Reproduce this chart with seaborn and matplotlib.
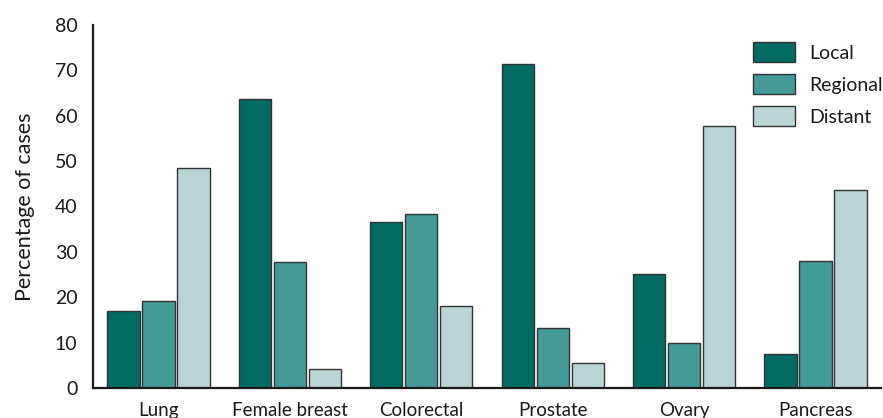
import numpy as np
import matplotlib
matplotlib.use('Agg')
import matplotlib.pyplot as plt
import pandas as pd
import seaborn as sns

sites = ['Lung', 'Female breast', 'Colorectal', 'Prostate', 'Ovary', 'Pancreas']
stages = ['Local', 'Regional', 'Distant']
local = [17.0, 63.7, 36.6, 71.4, 25.1, 7.5]
regional = [19.2, 27.8, 38.3, 13.2, 9.9, 28.0]
distant = [48.5, 4.2, 18.1, 5.5, 57.7, 43.6]
colors = ['#006b63', '#439a97', '#b9d6d5']

df = pd.DataFrame({
    'site': sites * 3,
    'stage': [s for s in stages for _ in sites],
    'pct': local + regional + distant,
})

sns.set_theme(style='white')
plt.rcParams['font.family'] = ['Lato', 'DejaVu Sans']
plt.rcParams['text.color'] = '#1a1a1a'

fig = plt.figure(figsize=(8.83, 4.18), dpi=100)
ax = fig.add_axes([0.105, 0.0718, 0.893, 0.8685])

sns.barplot(data=df, x='site', y='pct', hue='stage', hue_order=stages,
            order=sites, palette=colors, width=0.8, gap=0.08,
            edgecolor='#333333', linewidth=1.0, saturation=1, ax=ax)

ax.set_xlim(-0.5, 5.5)
ax.set_ylim(0, 80)
ax.set_yticks(range(0, 81, 10))
ax.set_xlabel('')
ax.set_ylabel('Percentage of cases', fontsize=15.5, labelpad=14, color='#1a1a1a')

for s in ['top', 'right']:
    ax.spines[s].set_visible(False)
for s in ['left', 'bottom']:
    ax.spines[s].set_color('#1a1a1a')
    ax.spines[s].set_linewidth(1.6)

ax.tick_params(axis='y', direction='in', length=14, width=1.6, color='#1a1a1a',
               labelsize=14, pad=11, labelcolor='#1a1a1a')
ax.yaxis.get_major_ticks()[0].tick1line.set_visible(False)
ax.yaxis.get_major_ticks()[1].tick1line.set_markersize(7)
ax.tick_params(axis='x', which='major', length=0, labelsize=13.5, pad=10,
               labelcolor='#1a1a1a')
ax.set_xticks(np.arange(0.5, 5.6, 1.0), minor=True)
ax.tick_params(axis='x', which='minor', direction='in', length=6, width=1.6,
               color='#1a1a1a')

handles, labels = ax.get_legend_handles_labels()
ax.legend(handles, labels, loc='upper left', bbox_to_anchor=(0.853, 0.9),
          bbox_transform=fig.transFigure, frameon=False, fontsize=14,
          handlelength=2.16, handleheight=1.24, labelspacing=0.6,
          handletextpad=0.72, borderpad=0, borderaxespad=0)

fig.savefig('out.png', dpi=100)
